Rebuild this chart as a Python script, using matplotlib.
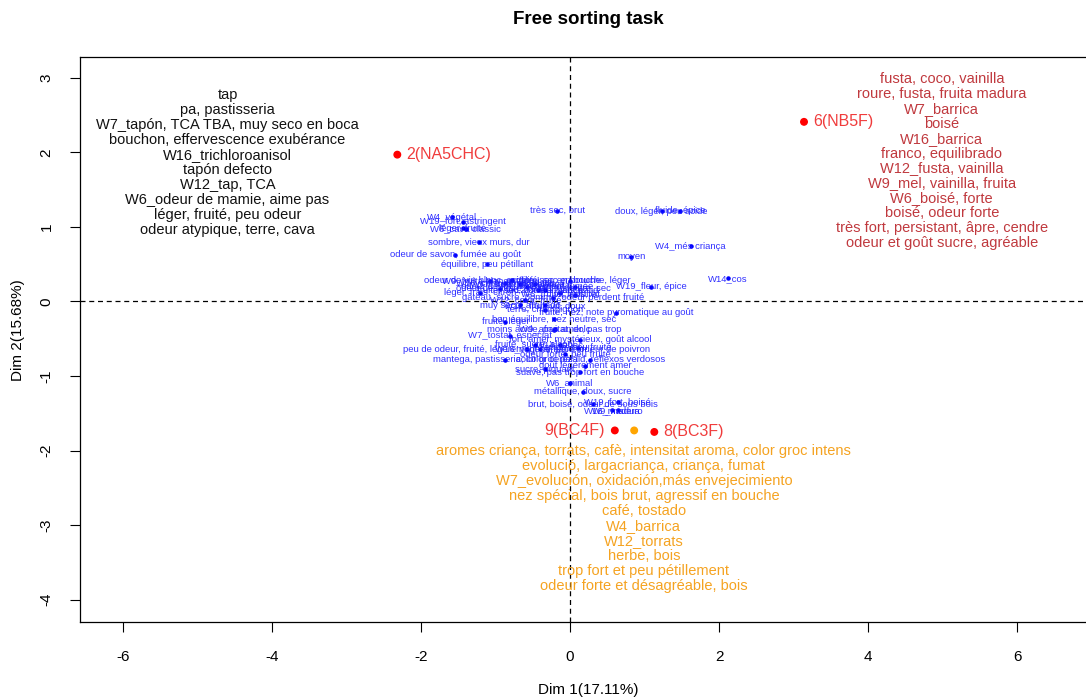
import matplotlib
matplotlib.use("Agg")
import matplotlib.pyplot as plt

plt.rcParams['font.family'] = ['Liberation Sans', 'DejaVu Sans']
plt.rcParams['axes.unicode_minus'] = False

#products (individuals)
prod_names = ["2(NA5CHC)", "6(NB5F)", "9(BC4F)", "", "8(BC3F)"]
prod_x = [-2.32, 3.14, 0.60, 0.86, 1.13]
prod_y = [1.97, 2.41, -1.73, -1.73, -1.75]
prod_colors = ["red", "red", "red", "orange", "red"]

#descriptions for each group of products
group_black = ["tap", "pa, pastisseria", "W7_tapón, TCA TBA, muy seco en boca",
               "bouchon, effervescence exubérance", "W16_trichloroanisol",
               "tapón defecto", "W12_tap, TCA", "W6_odeur de mamie, aime pas",
               "léger, fruité, peu odeur", "odeur atypique, terre, cava"]
group_red = ["fusta, coco, vainilla", "roure, fusta, fruita madura", "W7_barrica",
             "boisé", "W16_barrica", "franco, equilibrado", "W12_fusta, vainilla",
             "W9_mel, vainilla, fruita", "W6_boisé, forte", "boisé, odeur forte",
             "très fort, persistant, âpre, cendre", "odeur et goût sucre, agréable"]
group_orange = ["aromes criança, torrats, cafè, intensitat aroma, color groc intens",
                "evolució, largacriança, criança, fumat",
                "W7_evolución, oxidación,más envejecimiento",
                "nez spécial, bois brut, agressif en bouche", "café, tostado",
                "W4_barrica", "W12_torrats", "herbe, bois",
                "trop fort et peu pétillement", "odeur forte et désagréable, bois"]

#words (free descriptions) coordinates
word_labels = ["très sec, brut", "W4_végétal", "W19_fort, astringent", "léger, fruité",
               "W6_cava classic", "sombre, vieux murs, dur",
               "odeur de savon, fumée au goût", "équilibre, peu pétillant",
               "doux, léger, peu acide", "fluide, épice", "W4_més criança", "moyen",
               "W14_cos", "W19_fleur, épice", "odeur de vin blanc, acidité, sec en bouche",
               "W9_fruita blanca, floral", "W16_cítric, floral, blanc",
               "odeur de fût, légèrement fumée", "fruité, sec, couleur goût pâlid",
               "gâteau, sucre, pomme, odeur perdent fruité", "W7_fruita, flor blanca",
               "W12_fruita blanca", "W4_fresc, afruitat", "W6_fruité, frais, vif",
               "vif, acidité", "acidité, sec en bouche, léger", "léger, frais, citron",
               "odeur de levure, pain", "W19_neutre, sec",
               "fruité, nez, note pyromatique au goût", "W12_fruit, vif, doux",
               "muy seco, afrutado", "bon équilibre, nez neutre, sec", "fruité, léger",
               "moins acide, pas amer, pas trop", "fort, amer, mystérieux, goût alcool",
               "W7_tostat, especiat", "fruité, sucré, alcool",
               "peu de odeur, fruité, légèrement herbacé, odeur de poivron",
               "W16_vegetal, poivron", "odeur forte, peu fruité",
               "mantega, pastisseria, color cereza", "color groc pàl·lid, reflexos verdosos",
               "sucre, piquant", "suave, pas trop fort en bouche", "W6_animal",
               "métallique, doux, sucre", "W19_fort, boisé",
               "brut, boisé, odeur de sous bois", "W16_madera", "W9_maduro",
               "goût légèrement amer", "W9_afruitat, dolç", "W14_tabac",
               "terre, champignon", "W12_cava, fruité", "acide, peu fruité"]
word_x = [-0.17, -1.58, -1.44, -1.44, -1.40, -1.22, -1.54, -1.11, 1.23, 1.48, 1.62, 0.82,
          2.12, 1.09, -0.78, -1.07, -0.87, -0.58, -0.43, -0.23, -0.67, -0.34, -0.47, -0.13,
          0.07, 0.00, -1.21, -0.94, 0.07, 0.62, -0.34, -0.67, -0.21, -0.87, -0.21, 0.13,
          -0.81, -0.47, -0.58, -0.40, -0.07, -0.87, 0.27, -0.34, 0.13, 0.00, 0.17, 0.64,
          0.31, 0.56, 0.64, 0.20, -0.20, -0.13, -0.34, -0.60, 0.10]
word_y = [1.22, 1.13, 1.07, 0.98, 0.97, 0.80, 0.63, 0.50, 1.21, 1.22, 0.74, 0.60,
          0.31, 0.20, 0.29, 0.28, 0.25, 0.20, 0.15, 0.05, 0.24, 0.16, 0.23, 0.11,
          0.09, 0.28, 0.12, 0.17, 0.19, -0.15, -0.05, -0.05, -0.24, -0.27, -0.38, -0.51,
          -0.46, -0.58, -0.64, -0.64, -0.71, -0.78, -0.78, -0.91, -0.95, -1.09, -1.21, -1.35,
          -1.38, -1.46, -1.46, -0.86, -0.37, -0.58, -0.11, 0.02, -0.62]

x_ticks = [-6, -4, -2, 0, 2, 4, 6]
y_ticks = [-4, -3, -2, -1, 0, 1, 2, 3]

fig = plt.figure(figsize=(10.86, 6.97), dpi=100)
ax = fig.add_axes([80 / 1086, 75 / 697, 1016 / 1086, 565 / 697])
ax.set_xlim(-6.58, 7.06)
ax.set_ylim(-4.30, 3.28)

ax.axhline(0, color="black", lw=0.9, ls=(0, (4, 3)), zorder=1)
ax.axvline(0, color="black", lw=0.9, ls=(0, (4, 3)), zorder=1)

#words
ax.scatter(word_x, word_y, s=5, color="blue", zorder=2)
for lab, x, y in zip(word_labels, word_x, word_y):
    ax.text(x, y, lab, color="#1a1aff", fontsize=6.8, ha="center", va="center", alpha=0.9)

#products
ax.scatter(prod_x, prod_y, s=22, color=prod_colors, zorder=3)
for name, x, y in zip(prod_names, prod_x, prod_y):
    if name == "":
        continue
    if name == "9(BC4F)":
        ax.text(x - 0.13, y, name, color="#f03c3c", fontsize=11.5, ha="right", va="center")
    else:
        ax.text(x + 0.12, y, name, color="#f03c3c", fontsize=11.5, ha="left", va="center")

#group descriptions
def draw_group(lines, xc, ytop, color):
    for i, line in enumerate(lines):
        ax.text(xc, ytop - i * 0.201, line, color=color, fontsize=10.5, ha="center", va="center")

draw_group(group_black, -4.60, 2.77, "#111111")
draw_group(group_red, 4.99, 2.99, "#c0393e")
draw_group(group_orange, 0.99, -2.01, "#f5a321")

ax.set_xticks(x_ticks)
ax.set_yticks(y_ticks)
ax.set_xticklabels([str(t) for t in x_ticks])
ax.set_yticklabels([str(t) for t in y_ticks])
ax.tick_params(length=7, width=0.8, labelsize=11, direction="out")
ax.tick_params(axis="x", pad=13)
ax.tick_params(axis="y", pad=12)
plt.setp(ax.get_yticklabels(), rotation=90, va="center")
for sp in ax.spines.values():
    sp.set_linewidth(0.9)

fig.text(588 / 1086, 1 - 20 / 697, "Free sorting task", fontsize=13.5, fontweight="bold",
         ha="center", va="center")
fig.text(588 / 1086, 1 - 690 / 697, "Dim 1(17.11%)", fontsize=11, ha="center", va="center")
fig.text(18 / 1086, 1 - 330 / 697, "Dim 2(15.68%)", fontsize=11, ha="center", va="center",
         rotation=90)

fig.savefig("out.png", dpi=100)
